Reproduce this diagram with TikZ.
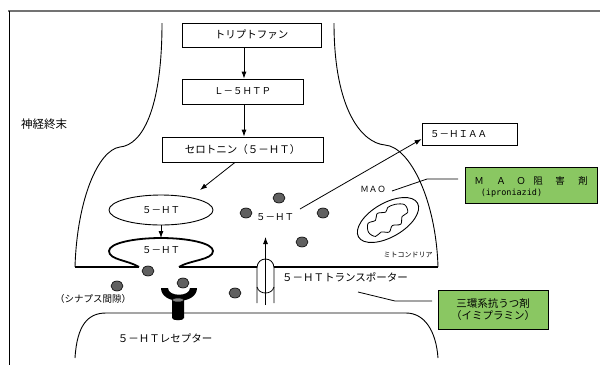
\documentclass[tikz,border=0pt]{standalone}
\usepackage{fontspec}
\setmainfont{Noto Sans CJK JP}
\newfontfamily\monofont{DejaVu Sans Mono}
\usepackage{tikz}
\usetikzlibrary{shapes.geometric, arrows.meta}

\definecolor{drugGreen}{RGB}{138,199,98}
\definecolor{dotGray}{RGB}{96,96,96}

\tikzset{
  box/.style={draw, line width=0.8pt, inner sep=2pt, font=\fontsize{10.5}{12}\selectfont},
  drug/.style={box, fill=drugGreen, line width=1pt},
  txt/.style={inner sep=0pt, font=\fontsize{10.5}{12}\selectfont},
  small/.style={inner sep=0pt, font=\fontsize{9.5}{12}\selectfont},
  dot/.style={ellipse, draw, fill=dotGray, line width=0.6pt, minimum width=12pt, minimum height=10pt, inner sep=0pt},
  cell/.style={line width=0.9pt},
  memb/.style={line width=1.8pt},
  flow/.style={-{Latex[length=7pt, width=5pt]}, line width=0.8pt},
}

\begin{document}
\begin{tikzpicture}[x=1pt, y=-1pt]
    \useasboundingbox (0,0) rectangle (600,365);

    % frame
    \draw [black!55, line width=1.2pt] (8,11) -- (600,11);
    \draw [line width=0.6pt] (9,11) -- (9,365);

    % nerve terminal
    \node [inner sep=0pt, font=\fontsize{11.5}{12}\selectfont] (term) at (44,124) {神経終末};
    \draw [cell] (162,23) .. controls (162,110) and (142,145) .. (120,147)
        .. controls (98,150) and (77,200) .. (75,267);
    \draw [cell] (334,23) .. controls (334,110) and (362,143) .. (385,145)
        .. controls (410,147) and (436,200) .. (438,267);
    \draw [memb] (75,267) -- (139,267);
    \draw [memb] (179,267) -- (257,267);
    \draw [memb] (274,267) -- (438,267);

    % postsynaptic side
    \draw [cell] (75,358) .. controls (77,325) and (88,313) .. (106,313) -- (406,313)
        .. controls (424,313) and (436,330) .. (438,358);

    % synthesis pathway
    \node [box, minimum width=139pt, minimum height=24pt] (trp) at (251.5,35) {トリプトファン};
    \node [box, minimum width=121pt, minimum height=25pt, font=\fontsize{9.5}{12}\selectfont] (htp) at (242.5,91.5) {Ｌ－５ＨＴＰ};
    \node [box, minimum width=161pt, minimum height=25pt] (sero) at (242.5,149.5) {セロトニン（５－ＨＴ）};
    \draw [flow] (trp.south -| 244,0) -- (htp.north -| 244,0);
    \draw [flow] (htp.south -| 244,0) -- (sero.north -| 244,0);

    % vesicles
    \node [ellipse, draw, line width=0.9pt, minimum width=104pt, minimum height=30pt, small] (ves) at (161,210) {５－ＨＴ};
    \draw [memb] (139,267) .. controls (128,260) and (109,260) .. (109,251)
        .. controls (109,243) and (135,238) .. (161,238)
        .. controls (187,238) and (213,243) .. (213,251)
        .. controls (213,260) and (190,260) .. (179,267);
    \node [small] (vesfuse) at (161,250) {５－ＨＴ};
    \coordinate (seroend) at (200,190);
    \draw [flow] (sero.south -| 235,0) -- (seroend);
    \draw [flow] (ves.south) -- (161,238);

    % free serotonin
    \foreach \p/\x/\y in {a/148/271, b/117/286, c/183/283, d/235/293,
                          e/246/213, f/279/198, g/323/213, h/302/242}
        \node [dot] (dot\p) at (\x,\y) {};
    \node [small] (free) at (275,217) {５－ＨＴ};

    % metabolite
    \node [box, minimum width=95pt, minimum height=22pt, text width=79pt, inner xsep=8pt, align=left, font=\fontsize{9.5}{12}\selectfont] (hiaa) at (469.5,134) {５－ＨＩＡＡ};
    \coordinate (freeout) at (300,209);
    \draw [flow] (freeout) -- ([yshift=-5pt]hiaa.west);

    % mitochondrion
    \node [inner sep=0pt, font=\fontsize{8.5}{10}\selectfont] (mao) at (373,189) {ＭＡＯ};
    \begin{scope}[shift={(388,220)}, rotate=30]
        \draw [line width=0.9pt] (0,0) ellipse (34 and 17);
        \draw [line width=0.8pt] plot [smooth cycle, tension=0.6] coordinates {
            (-23,1) (-19,-7) (-11,-6) (-6,-11) (2,-8) (6,-11) (14,-10) (22,-5)
            (21,3) (14,4) (9,10) (1,7) (-5,11) (-12,7) (-19,8)};
    \end{scope}
    \node [inner sep=0pt, font=\fontsize{7}{8}\selectfont] (mito) at (408,255) {ミトコンドリア};

    % transporter
    \draw [line width=0.8pt] (257,303) -- (257,268) .. controls (257,256) and (274,256) .. (274,268) -- (274,303);
    \draw [line width=0.8pt] (257,287) .. controls (259,295) and (272,295) .. (274,287);
    \draw [flow] (265.5,305) -- (265.5,237);
    \node [txt] (trans) at (345,277) {５－ＨＴトランスポーター};

    % receptor
    \fill (161,288) .. controls (161,305) and (197,305) .. (197,288) -- (190,288)
        .. controls (190,297) and (168,297) .. (168,288) -- cycle;
    \fill (172,300) -- (172,318) .. controls (172,321) and (184,321) .. (184,318) -- (184,300) -- cycle;
    \filldraw [fill=gray, line width=0.5pt] (178,300) ellipse (6 and 2);
    \node [small] (syn) at (93,299) {（シナプス間隙）};
    \node [txt] (rec) at (165,338) {５－ＨＴレセプター};

    % drugs
    \node [drug, minimum width=132pt, minimum height=36pt] (maoi) at (531,185) {};
    \foreach \c/\x in {Ｍ/479, Ａ/501, Ｏ/521, 阻/538, 害/560, 剤/583}
        \node [small] (maoi-\x) at (\x,181) {\c};
    \node [inner sep=0pt, font=\monofont\fontsize{8.5}{10}\selectfont] (ipro) at (511.5,193) {(iproniazid)};
    \node [drug, minimum width=110pt, minimum height=39pt, align=center] (tca) at (493,309.5)
        {三環系抗うつ剤\\（イミプラミン）};

    % callouts
    \coordinate (maobend) at (427,179);
    \draw [line width=0.8pt] (392,191) -- (maobend) -- (458,179);
    \coordinate (tcabend) at (395,301);
    \draw [line width=0.8pt] (358,292) -- (tcabend) -- (432,301);
\end{tikzpicture}
\end{document}
